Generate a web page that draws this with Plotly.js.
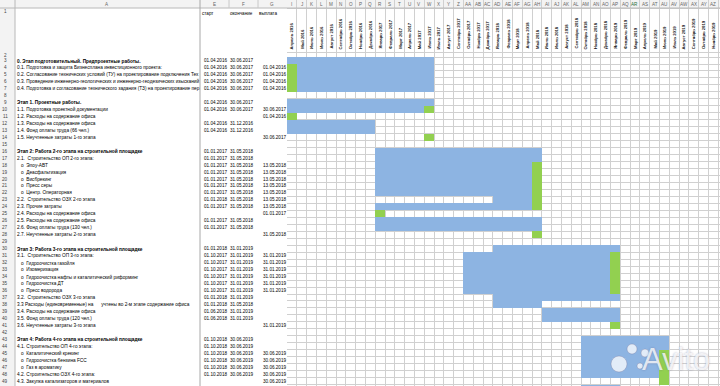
<!DOCTYPE html>
<html>
<head>
<meta charset="utf-8">
<script src="https://cdn.plot.ly/plotly-3.0.1.min.js"></script>
<style>
html,body{margin:0;padding:0;background:#fff;}
#chart{width:720px;height:386px;}
</style>
</head>
<body>
<div id="chart"></div>
<script>
// ---------------- DATA ----------------
const NB = '\u00A0';
const rowNumbers = [3,4,5,6,7,8,9,10,11,12,13,14,15,16,17,18,19,20,21,22,23,24,25,26,27,28,29,30,31,32,33,34,35,36,37,38,39,40,41,42,43,44,45,46,47,48,49,50];
const taskLabels = [
  "0. Этап подготовительный. Предпроектные работы.",
  "0.1. Подготовка и защита Бизнесплана инвестиционного проекта:",
  "0.2. Согласование технических условий (ТУ) на проектирование подключения Тех",
  "0.3. Проведение инженерно-геологических и инженерно-геодезических изысканий",
  "0.4. Подготовка и согласование технического задания (ТЗ) на проектирование пер",
  "",
  "Этап 1. Проектные работы.",
  "1.1. Подготовка проектной документации",
  "1.2. Расходы на содержание офиса",
  "1.3. Расходы на содержание офиса",
  "1.4. Фонд оплаты труда (66 чел.)",
  "1.5. Неучтенные затраты 1-го этапа",
  "",
  "Этап 2: Работа 2-го этапа на строительной площадке",
  "2.1.  Строительство ОП 2-го этапа:",
  "   o  Элоу-АВТ",
  "   o  Деасфальтизация",
  "   o  Висбрекинг",
  "   o  Пресс серы",
  "   o  Центр. Операторная",
  "2.2.  Строительство ОЗХ 2-го этапа",
  "2.3. Прочие затраты",
  "2.4. Расходы на содержание офиса",
  "2.5. Расходы на содержание офиса",
  "2.6. Фонд оплаты труда (130 чел.)",
  "2.7. Неучтенные затраты 2-го этапа",
  "",
  "Этап 3: Работа 3-го этапа на строительной площадке",
  "3.1.  Строительство ОП 3-го этапа:",
  "   o  Гидроочистка газойля",
  "   o  Изомеризация",
  "   o  Гидроочистка нафты и каталитический риформинг",
  "   o  Гидроочистка ДТ",
  "   o  Пресс водорода",
  "3.2.  Строительство ОЗХ 3-го этапа",
  "3.3 Расходы (единовременные) на      учтены во 2-м этапе содержание офиса",
  "3.4. Расходы на содержание офиса",
  "3.5. Фонд оплаты труда (120 чел.)",
  "3.6. Неучтенные затраты 3-го этапа",
  "",
  "Этап 4: Работа 4-го этапа на строительной площадке",
  "4.1. Строительство ОП 4-го этапа:",
  "   o  Каталитический крекинг",
  "   o  Гидроочистка бензина FCC",
  "   o  Газ в ароматику",
  "4.2. Строительство ОЗХ 4-го этапа:",
  "4.3. Закупка катализаторов и материалов",
  ""
];
const startDates = [
  "01.04.2016","01.04.2016","01.04.2016","01.04.2016","01.04.2016","",
  "01.04.2016","01.04.2016","","01.04.2016","01.04.2016","","",
  "01.01.2017","01.01.2017","01.01.2017","01.01.2017","01.01.2017","01.01.2017","01.01.2017",
  "01.01.2018","01.01.2017","","01.01.2017","01.01.2017","","",
  "01.01.2018","01.10.2017","01.10.2017","01.10.2017","01.10.2017","01.10.2017","01.10.2017",
  "01.01.2018","01.01.2018","01.06.2018","01.06.2018","","",
  "01.10.2018","01.10.2018","01.10.2018","01.10.2018","01.10.2018","01.10.2018","","01.10.2018"
];
const endDates = [
  "30.06.2017","30.06.2017","30.06.2017","30.06.2017","30.06.2017","",
  "30.06.2017","30.06.2017","","31.12.2016","31.12.2016","","",
  "31.05.2018","31.05.2018","31.05.2018","31.05.2018","31.05.2018","31.05.2018","31.05.2018",
  "31.05.2018","31.05.2018","","31.05.2018","31.05.2018","","",
  "31.01.2019","31.01.2019","31.01.2019","31.01.2019","31.01.2019","31.01.2019","31.01.2019",
  "31.01.2019","31.05.2018","31.01.2019","31.01.2019","","",
  "30.06.2019","30.06.2019","30.06.2019","30.06.2019","30.06.2019","30.06.2019","","31.01.2019"
];
const payDates = [
  "","01.04.2016","01.04.2016","01.04.2016","01.04.2016","",
  "","30.06.2017","01.04.2016","","","30.06.2017","",
  "","","13.05.2018","13.05.2018","13.05.2018","13.05.2018","13.05.2018",
  "13.05.2018","13.05.2018","01.01.2017","","","31.05.2018","",
  "","31.01.2019","31.01.2019","31.01.2019","31.01.2019","31.01.2019","31.01.2019",
  "","","","","31.01.2019","",
  "","","30.06.2019","30.06.2019","30.06.2019","30.06.2019","30.06.2019",""
];
const boldRows = [3,9,16,30,43];
const monthLabels = [
  "Апрель 2016","Май 2016","Июнь 2016","Июль 2016","Август 2016","Сентябрь 2016","Октябрь 2016","Ноябрь 2016","Декабрь 2016",
  "Январь 2017","Февраль 2017","Март 2017","Апрель 2017","Май 2017","Июнь 2017","Июль 2017","Август 2017","Сентябрь 2017","Октябрь 2017","Ноябрь 2017","Декабрь 2017",
  "Январь 2018","Февраль 2018","Март 2018","Апрель 2018","Май 2018","Июнь 2018","Июль 2018","Август 2018","Сентябрь 2018","Октябрь 2018","Ноябрь 2018","Декабрь 2018",
  "Январь 2019","Февраль 2019","Март 2019","Апрель 2019","Май 2019","Июнь 2019","Июль 2019","Август 2019","Сентябрь 2019","Октябрь 2019","Ноябрь 2019"
];
const columnLetters = ["I","J","K","L","M","N","O","P","Q","R","S","T","U","V","W","X","Y","Z",
  "AA","AB","AC","AD","AE","AF","AG","AH","AI","AJ","AK","AL","AM","AN","AO","AP","AQ","AR","AS","AT","AU","AV","AW","AX","AY","AZ"];
const tableHeaders = ["старт","окончание","выплата"];

// ---------------- HELPERS ----------------
const W = 720, H = 386;
const ROW_TOP4 = 64, PITCH = 6.97;         // spreadsheet geometry
const COL0 = 287, COLW = 9.8;
function yv(px){ return 3.5 + (px - ROW_TOP4) / PITCH; }
function px2paper(px){ return px / W; }
function monthIndex(d){ const p = d.split('.').map(Number); return (p[2]-2016)*12 + (p[1]-4); }
function nb(s){ return s.replace(/ /g, NB); }

// ---------------- TRACES ----------------
const blueY=[], blueBase=[], blueLen=[];
const greenY=[], greenBase=[], greenLen=[];
rowNumbers.forEach((r,i)=>{
  if(startDates[i] && endDates[i]){
    const s = monthIndex(startDates[i]), e = monthIndex(endDates[i]);
    blueY.push(r); blueBase.push(s); blueLen.push(e - s + 1);
  }
  if(payDates[i]){
    greenY.push(r); greenBase.push(monthIndex(payDates[i])); greenLen.push(1);
  }
});
const traces = [
  {type:'bar', orientation:'h', y:blueY, x:blueLen, base:blueBase, width:1,
   marker:{color:'#8DB4E2', line:{width:0}}, hoverinfo:'skip'},
  {type:'bar', orientation:'h', y:greenY, x:greenLen, base:greenBase, width:1,
   marker:{color:'#92D050', line:{width:0}}, hoverinfo:'skip'}
];

// ---------------- ANNOTATIONS ----------------
const FONT = 'Liberation Sans, Arial, sans-serif';
const ann = [];
function addText(x, xref, y, text, xanchor, size, color, extra){
  ann.push(Object.assign({x:x, xref:xref, y:y, yref:'y', text:text, showarrow:false,
    xanchor:xanchor, yanchor:'middle', borderpad:0,
    font:{family:FONT, size:size, color:color}}, extra||{}));
}
// row numbers (rows 1..49)
[1,2].concat(rowNumbers.slice(0,-1)).forEach(r=>{
  const y = r===1 ? yv(11) : (r===2 ? yv(55) : r);
  addText(px2paper(5), 'paper', y, String(r), 'center', 4.6, '#444');
});
// task rows
rowNumbers.forEach((r,i)=>{
  if(r>49) return;
  const bold = boldRows.indexOf(r) >= 0;
  if(taskLabels[i]) addText(px2paper(16), 'paper', r, bold ? '<b>'+nb(taskLabels[i])+'</b>' : nb(taskLabels[i]), 'left', 4.75, '#000');
  if(startDates[i]) addText(px2paper(228), 'paper', r, startDates[i], 'right', 4.6, '#000');
  if(endDates[i]) addText(px2paper(254), 'paper', r, endDates[i], 'right', 4.6, '#000');
  if(payDates[i]) addText(px2paper(286.5), 'paper', r, payDates[i], 'right', 4.6, '#000');
});
// table headers
[200.5, 229.5, 258].forEach((p,k)=>{
  addText(px2paper(p), 'paper', yv(13), tableHeaders[k], 'left', 4.6, '#000');
});
// month header labels (rotated)
monthLabels.forEach((m,k)=>{
  ann.push({x:k+0.5, xref:'x', y:yv(50), yref:'y', text:'<b>'+nb(m)+'</b>', showarrow:false,
    textangle:-90, xanchor:'center', yanchor:'bottom', borderpad:0,
    font:{family:FONT, size:4.2, color:'#111'}});
});
// column letters
columnLetters.forEach((c,k)=>{
  addText(k+0.5, 'x', yv(4), c, 'center', 4.6, c==='AR' ? '#1e6e3a' : '#666');
});
[["A",107],["E",214],["F",243],["G",272]].forEach(c=>{
  addText(px2paper(c[1]), 'paper', yv(4), c[0], 'center', 4.6, '#666');
});
// watermark
ann.push({x:px2paper(676), xref:'paper', y:yv(359), yref:'y', text:'Avito', showarrow:false,
  xanchor:'center', yanchor:'middle', borderpad:0,
  font:{family:'Liberation Sans, Arial, sans-serif', size:31, color:'rgba(255,255,255,0.78)',
        shadow:'0px 0px 2px rgba(90,90,130,0.6)'}});

// ---------------- CHROME (spreadsheet frame) ----------------
const shapes = [
  {type:'rect', xref:'paper', yref:'paper', x0:0, x1:1, y0:1-8/H, y1:1, fillcolor:'#F3F3F3', line:{width:0}, layer:'below'},
  {type:'rect', xref:'paper', yref:'paper', x0:0, x1:15/W, y0:0, y1:1, fillcolor:'#F3F3F3', line:{width:0}, layer:'below'},
  {type:'line', xref:'paper', yref:'paper', x0:0, x1:1, y0:1-8/H, y1:1-8/H, line:{color:'#B8B8B8', width:1}},
  {type:'line', xref:'paper', yref:'paper', x0:15/W, x1:15/W, y0:0, y1:1, line:{color:'#B8B8B8', width:1}},
  {type:'line', xref:'paper', yref:'paper', x0:200/W, x1:200/W, y0:0, y1:1, line:{color:'#A8A8A8', width:1}},
  {type:'line', xref:'paper', yref:'paper', x0:229/W, x1:229/W, y0:1-8/H, y1:1, line:{color:'#C8C8C8', width:1}},
  {type:'line', xref:'paper', yref:'paper', x0:258/W, x1:258/W, y0:1-8/H, y1:1, line:{color:'#C8C8C8', width:1}}
];
// Avito logo circles
[[619,364,8],[632,349,5],[645,353,4],[640,366,3]].forEach(c=>{
  shapes.push({type:'circle', xref:'paper', yref:'paper',
    x0:(c[0]-c[2])/W, x1:(c[0]+c[2])/W, y0:1-(c[1]+c[2])/H, y1:1-(c[1]-c[2])/H,
    fillcolor:'rgba(255,255,255,0.75)', line:{color:'rgba(110,110,150,0.4)', width:0.8}});
});

// ---------------- AXES ----------------
const xTicks = []; for(let k=0;k<=44;k++) xTicks.push(k);
const yTicks = [yv(8), yv(52)]; for(let r=2.5;r<=49.5;r++) yTicks.push(r);

const layout = {
  width:W, height:H, margin:{l:0,r:0,t:0,b:0,pad:0},
  paper_bgcolor:'#ffffff', plot_bgcolor:'rgba(0,0,0,0)',
  barmode:'overlay', bargap:0, showlegend:false,
  font:{family:FONT, size:5, color:'#000'},
  xaxis:{domain:[COL0/W,1], range:[0,(W-COL0)/COLW], tickmode:'array', tickvals:xTicks,
    showgrid:true, gridcolor:'#D0D0D0', gridwidth:1, zeroline:false, showticklabels:false,
    ticks:'', showline:false, fixedrange:true},
  yaxis:{domain:[0,1], range:[yv(H), yv(0)], tickmode:'array', tickvals:yTicks,
    showgrid:true, gridcolor:'#D0D0D0', gridwidth:1, zeroline:false, showticklabels:false,
    ticks:'', showline:false, fixedrange:true},
  annotations:ann, shapes:shapes
};
Plotly.newPlot('chart', traces, layout, {staticPlot:true, displayModeBar:false});
</script>
</body>
</html>
